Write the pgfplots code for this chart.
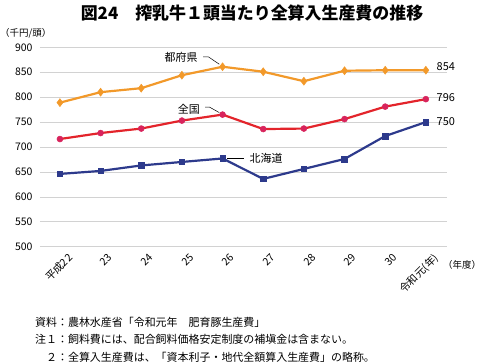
\documentclass[border=0pt]{standalone}
\usepackage{pgfplots}
\pgfplotsset{compat=1.18}
\usepackage{fontspec}
\setmainfont{Noto Sans CJK JP}
\definecolor{cOr}{HTML}{F2992A}
\definecolor{cRd}{HTML}{E3242B}
\definecolor{cRdM}{HTML}{D8245C}
\definecolor{cBl}{HTML}{2D3A8C}
\begin{document}
\begin{tikzpicture}
\path[use as bounding box] (0bp,0bp) rectangle (484bp,-362bp);
\begin{axis}[
  at={(40bp,-246.7bp)}, anchor=south west,
  scale only axis, width=407bp, height=199.4bp,
  xmin=-0.49, xmax=9.52, ymin=500, ymax=900,
  ytick={500,550,...,900},
  ymajorgrids, grid style={draw=gray!35, line width=0.6pt},
  axis line style={draw=none}, tick style={draw=none},
  xtick={0,...,9},
  xticklabels={平成22,23,24,25,26,27,28,29,30,令和元(年)},
  x tick label style={rotate=45, anchor=north east, font=\fontsize{10.5}{11}\selectfont, inner sep=1pt, xshift=2bp, yshift=-8bp},
  y tick label style={font=\fontsize{10.5}{11}\selectfont, xshift=-4bp},
  /pgf/number format/assume math mode=true,
  clip=false,
]
\addplot[cOr, line width=2.2pt, mark=diamond*, mark size=4pt, mark options={fill=cOr, draw=cOr, line width=0.5pt}]
  coordinates {(0,789) (1,810) (2,818) (3,844) (4,861) (5,851) (6,832) (7,853) (8,854) (9,854)};
\addplot[cRd, line width=2.2pt, mark=*, mark size=3pt, mark options={fill=cRdM, draw=cRdM, line width=0.5pt}]
  coordinates {(0,716) (1,728) (2,737) (3,753) (4,765) (5,736) (6,737) (7,756) (8,781) (9,796)};
\addplot[cBl, line width=2.2pt, mark=square*, mark size=2.8pt, mark options={fill=cBl, draw=cBl, line width=0.5pt}]
  coordinates {(0,646) (1,652) (2,663) (3,670) (4,677) (5,636) (6,656) (7,676) (8,722) (9,750)};
\node[font=\fontsize{11}{12}\selectfont] at (axis cs:2.98,880.5) {都府県};
\draw[black, line width=0.5pt] (axis cs:3.52,881) -- (axis cs:3.65,881) -- (axis cs:3.92,866);
\node[font=\fontsize{11}{12}\selectfont] at (axis cs:3.17,776) {全国};
\draw[black, line width=0.5pt] (axis cs:3.57,780) -- (axis cs:3.68,780) -- (axis cs:3.92,769);
\node[font=\fontsize{11}{12}\selectfont] at (axis cs:5.07,678) {北海道};
\draw[black, line width=0.5pt] (axis cs:4.12,677) -- (axis cs:4.52,677);
\node[anchor=west, font=\fontsize{11}{12}\selectfont] at (axis cs:9.18,862) {854};
\node[anchor=west, font=\fontsize{11}{12}\selectfont] at (axis cs:9.18,800) {796};
\node[anchor=west, font=\fontsize{11}{12}\selectfont] at (axis cs:9.18,750) {750};
\end{axis}
\node[font=\fontsize{17}{18}\selectfont\bfseries] at (252bp,-13bp) {図24　搾乳牛１頭当たり全算入生産費の推移};
\node[anchor=west, inner sep=0pt, font=\fontsize{9.5}{10}\selectfont] at (0bp,-33bp) {（千円/頭）};
\node[anchor=west, inner sep=0pt, font=\fontsize{9.5}{10}\selectfont] at (443bp,-265bp) {（年度）};
\node[anchor=west, inner sep=0pt, font=\fontsize{11}{12}\selectfont] at (35bp,-322bp) {資料：農林水産省「令和元年　肥育豚生産費」};
\node[anchor=west, inner sep=0pt, font=\fontsize{11}{12}\selectfont] at (35bp,-339.5bp) {注１：飼料費には、配合飼料価格安定制度の補塡金は含まない。};
\node[anchor=west, inner sep=0pt, font=\fontsize{11}{12}\selectfont] at (35bp,-357bp) {\hspace*{1em}２：全算入生産費は、「資本利子・地代全額算入生産費」の略称。};
\end{tikzpicture}
\end{document}
